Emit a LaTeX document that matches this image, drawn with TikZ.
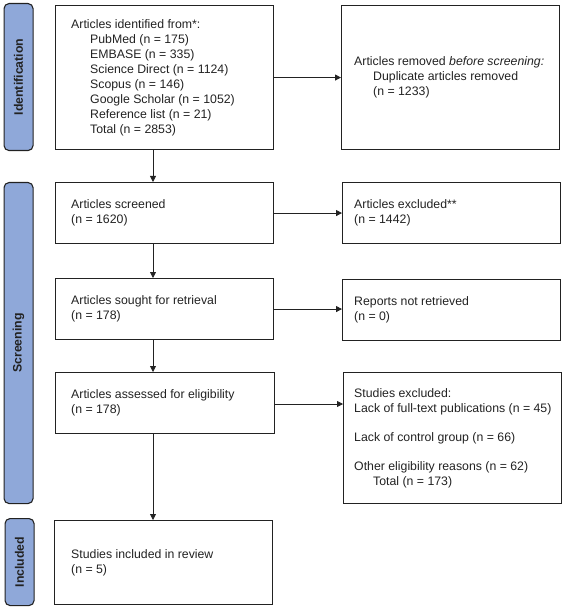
\documentclass[tikz,border=0pt]{standalone}
\usepackage{fontspec}
\setmainfont{Liberation Sans}
\usetikzlibrary{arrows.meta}
\definecolor{barblue}{HTML}{8FA8D9}
\definecolor{ink}{HTML}{222222}
\begin{document}
\begin{tikzpicture}[x=1pt,y=-1pt,
  box/.style={draw=ink,line width=1.1pt,rectangle,inner sep=0pt,anchor=north west},
  txt/.style={align=left,inner sep=0pt,anchor=west,font=\fontsize{12.3}{15}\selectfont,text=ink},
  phase/.style={draw=ink,line width=1.1pt,fill=barblue,rounded corners=5pt,rectangle,anchor=north west,
    minimum width=29pt,inner sep=0pt},
  phaselabel/.style={rotate=90,font=\bfseries\fontsize{12.3}{14}\selectfont,text=ink},
  flow/.style={draw=ink,line width=0.8pt,-{Triangle[length=6pt,width=6pt]}}]
\useasboundingbox (0,0) rectangle (565,609);
\newcommand{\ind}{\hspace*{19pt}}
% phase bars
\node[phase,minimum height=147pt] (pid) at (3.5,3) {};
\node[phaselabel] (lid) at (pid.center) {Identification};
\node[phase,minimum height=321pt] (psc) at (3.5,182) {};
\node[phaselabel] (lsc) at (psc.center) {Screening};
\node[phase,minimum height=87pt] (pin) at (4.5,518) {};
\node[phaselabel] (lin) at (pin.center) {Included};
% boxes
\node[box,minimum width=218pt,minimum height=144pt] (ident) at (55,5) {};
\node[txt,xshift=16pt] (identt) at (ident.west) {Articles identified from*:\\
\ind PubMed (n = 175)\\
\ind EMBASE (n = 335)\\
\ind Science Direct (n = 1124)\\
\ind Scopus (n = 146)\\
\ind Google Scholar (n = 1052)\\
\ind Reference list (n = 21)\\
\ind Total (n = 2853)};
\node[box,minimum width=218pt,minimum height=144pt] (removed) at (341,5) {};
\node[txt,xshift=13pt] (removedt) at (removed.west) {Articles removed \textit{before screening:}\\
\ind Duplicate articles removed\\
\ind (n = 1233)};
\node[box,minimum width=218pt,minimum height=61pt] (screened) at (55,182) {};
\node[txt,xshift=16pt] (screenedt) at (screened.west) {Articles screened\\(n = 1620)};
\node[box,minimum width=218pt,minimum height=61pt] (excluded) at (342,182) {};
\node[txt,xshift=12pt] (excludedt) at (excluded.west) {Articles excluded**\\(n = 1442)};
\node[box,minimum width=218pt,minimum height=61pt] (sought) at (55,278) {};
\node[txt,xshift=16pt] (soughtt) at (sought.west) {Articles sought for retrieval\\(n = 178)};
\node[box,minimum width=218pt,minimum height=61pt] (notret) at (342,279) {};
\node[txt,xshift=12pt] (notrett) at (notret.west) {Reports not retrieved\\(n = 0)};
\node[box,minimum width=219pt,minimum height=61pt] (assessed) at (55,372) {};
\node[txt,xshift=16pt] (assessedt) at (assessed.west) {Articles assessed for eligibility\\(n = 178)};
\node[box,minimum width=218pt,minimum height=131pt] (studexc) at (343,372) {};
\node[txt,xshift=11pt] (studexct) at (studexc.west) {Studies excluded:\\
Lack of full-text publications (n = 45)\\[14pt]
Lack of control group (n = 66)\\[14pt]
Other eligibility reasons (n = 62)\\
\ind Total (n = 173)};
\node[box,minimum width=218pt,minimum height=84pt] (included) at (54,520) {};
\node[txt,xshift=17pt] (includedt) at (included.west) {Studies included in review\\(n = 5)};
% connectors
\coordinate (ax) at (153,0);
\draw[flow] (ident.south -| ax) -- (screened.north -| ax);
\draw[flow] (screened.south -| ax) -- (sought.north -| ax);
\draw[flow] (sought.south -| ax) -- (assessed.north -| ax);
\draw[flow] (assessed.south -| ax) -- (included.north -| ax);
\draw[flow] (ident.east) -- (ident.east -| removed.west);
\draw[flow] (screened.east) -- (screened.east -| excluded.west);
\draw[flow] (sought.east) -- (sought.east -| notret.west);
\coordinate (aw) at (0,404);
\draw[flow] (assessed.east |- aw) -- (studexc.west |- aw);
\end{tikzpicture}
\end{document}
